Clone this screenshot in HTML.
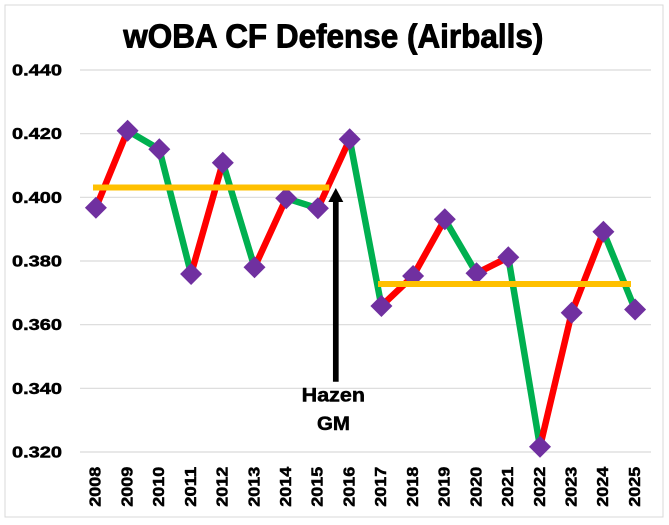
<!DOCTYPE html>
<html>
<head>
<meta charset="utf-8">
<style>
  html, body { margin: 0; padding: 0; background: #ffffff; }
  body { width: 669px; height: 525px; overflow: hidden; }
  svg { display: block; }
  text { font-family: "Liberation Sans", Arial, sans-serif; font-weight: bold; fill: #000; stroke: #000; stroke-width: 0.5px; stroke-linejoin: round; }
  .title { stroke-width: 0.9px; }
</style>
</head>
<body>
<svg width="669" height="525" viewBox="0 0 669 525" xmlns="http://www.w3.org/2000/svg">
  <rect x="0" y="0" width="669" height="525" fill="#ffffff"/>
  <rect x="5" y="5" width="658" height="512" fill="#ffffff" stroke="#D9D9D9" stroke-width="1"/>

  <!-- Title -->
  <text class="title" x="123.3" y="47.4" font-size="33" textLength="420" lengthAdjust="spacingAndGlyphs">wOBA CF Defense (Airballs)</text>

  <!-- Gridlines -->
  <g stroke="#D9D9D9" stroke-width="1.2">
    <line x1="80" y1="70" x2="651" y2="70"/>
    <line x1="80" y1="133.7" x2="651" y2="133.7"/>
    <line x1="80" y1="197.3" x2="651" y2="197.3"/>
    <line x1="80" y1="261" x2="651" y2="261"/>
    <line x1="80" y1="324.7" x2="651" y2="324.7"/>
    <line x1="80" y1="388.3" x2="651" y2="388.3"/>
    <line x1="80" y1="452" x2="651" y2="452"/>
  </g>

  <!-- Y labels -->
  <g font-size="16">
    <text x="12" y="75.5" textLength="50" lengthAdjust="spacingAndGlyphs">0.440</text>
    <text x="12" y="139.2" textLength="50" lengthAdjust="spacingAndGlyphs">0.420</text>
    <text x="12" y="202.8" textLength="50" lengthAdjust="spacingAndGlyphs">0.400</text>
    <text x="12" y="266.5" textLength="50" lengthAdjust="spacingAndGlyphs">0.380</text>
    <text x="12" y="330.2" textLength="50" lengthAdjust="spacingAndGlyphs">0.360</text>
    <text x="12" y="393.8" textLength="50" lengthAdjust="spacingAndGlyphs">0.340</text>
    <text x="12" y="457.5" textLength="50" lengthAdjust="spacingAndGlyphs">0.320</text>
  </g>

  <!-- X labels -->
  <g font-size="16">
    <text transform="translate(100.7,506.7) rotate(-90)" textLength="40" lengthAdjust="spacingAndGlyphs">2008</text>
    <text transform="translate(132.4,506.7) rotate(-90)" textLength="40" lengthAdjust="spacingAndGlyphs">2009</text>
    <text transform="translate(164.1,506.7) rotate(-90)" textLength="40" lengthAdjust="spacingAndGlyphs">2010</text>
    <text transform="translate(195.9,506.7) rotate(-90)" textLength="40" lengthAdjust="spacingAndGlyphs">2011</text>
    <text transform="translate(227.6,506.7) rotate(-90)" textLength="40" lengthAdjust="spacingAndGlyphs">2012</text>
    <text transform="translate(259.3,506.7) rotate(-90)" textLength="40" lengthAdjust="spacingAndGlyphs">2013</text>
    <text transform="translate(291.0,506.7) rotate(-90)" textLength="40" lengthAdjust="spacingAndGlyphs">2014</text>
    <text transform="translate(322.7,506.7) rotate(-90)" textLength="40" lengthAdjust="spacingAndGlyphs">2015</text>
    <text transform="translate(354.5,506.7) rotate(-90)" textLength="40" lengthAdjust="spacingAndGlyphs">2016</text>
    <text transform="translate(386.2,506.7) rotate(-90)" textLength="40" lengthAdjust="spacingAndGlyphs">2017</text>
    <text transform="translate(417.9,506.7) rotate(-90)" textLength="40" lengthAdjust="spacingAndGlyphs">2018</text>
    <text transform="translate(449.6,506.7) rotate(-90)" textLength="40" lengthAdjust="spacingAndGlyphs">2019</text>
    <text transform="translate(481.3,506.7) rotate(-90)" textLength="40" lengthAdjust="spacingAndGlyphs">2020</text>
    <text transform="translate(513.1,506.7) rotate(-90)" textLength="40" lengthAdjust="spacingAndGlyphs">2021</text>
    <text transform="translate(544.8,506.7) rotate(-90)" textLength="40" lengthAdjust="spacingAndGlyphs">2022</text>
    <text transform="translate(576.5,506.7) rotate(-90)" textLength="40" lengthAdjust="spacingAndGlyphs">2023</text>
    <text transform="translate(608.2,506.7) rotate(-90)" textLength="40" lengthAdjust="spacingAndGlyphs">2024</text>
    <text transform="translate(639.9,506.7) rotate(-90)" textLength="40" lengthAdjust="spacingAndGlyphs">2025</text>
  </g>

  <!-- Series segments -->
  <g stroke-width="6.5" stroke-linecap="round" fill="none">
    <line x1="95.9" y1="207.7" x2="127.6" y2="130.7" stroke="#FF0000"/>
    <line x1="127.6" y1="130.7" x2="159.3" y2="149.3" stroke="#00B050"/>
    <line x1="159.3" y1="149.3" x2="191.1" y2="274" stroke="#00B050"/>
    <line x1="191.1" y1="274" x2="222.8" y2="162.7" stroke="#FF0000"/>
    <line x1="222.8" y1="162.7" x2="254.5" y2="267.3" stroke="#00B050"/>
    <line x1="254.5" y1="267.3" x2="286.2" y2="198.3" stroke="#FF0000"/>
    <line x1="286.2" y1="198.3" x2="317.9" y2="208.3" stroke="#00B050"/>
    <line x1="317.9" y1="208.3" x2="349.7" y2="139.3" stroke="#FF0000"/>
    <line x1="349.7" y1="139.3" x2="381.4" y2="306" stroke="#00B050"/>
    <line x1="381.4" y1="306" x2="413.1" y2="276" stroke="#FF0000"/>
    <line x1="413.1" y1="276" x2="444.8" y2="219.3" stroke="#FF0000"/>
    <line x1="444.8" y1="219.3" x2="476.5" y2="273.3" stroke="#00B050"/>
    <line x1="476.5" y1="273.3" x2="508.3" y2="257.3" stroke="#FF0000"/>
    <line x1="508.3" y1="257.3" x2="540.0" y2="446.7" stroke="#00B050"/>
    <line x1="540.0" y1="446.7" x2="571.7" y2="312.7" stroke="#FF0000"/>
    <line x1="571.7" y1="312.7" x2="603.4" y2="231.7" stroke="#FF0000"/>
    <line x1="603.4" y1="231.7" x2="635.1" y2="309.5" stroke="#00B050"/>
  </g>

  <!-- Markers -->
  <g fill="#7030A0">
    <path d="M95.9 196.7 L106.9 207.7 L95.9 218.7 L84.9 207.7 Z"/>
    <path d="M127.6 119.7 L138.6 130.7 L127.6 141.7 L116.6 130.7 Z"/>
    <path d="M159.3 138.3 L170.3 149.3 L159.3 160.3 L148.3 149.3 Z"/>
    <path d="M191.1 263 L202.1 274 L191.1 285 L180.1 274 Z"/>
    <path d="M222.8 151.7 L233.8 162.7 L222.8 173.7 L211.8 162.7 Z"/>
    <path d="M254.5 256.3 L265.5 267.3 L254.5 278.3 L243.5 267.3 Z"/>
    <path d="M286.2 187.3 L297.2 198.3 L286.2 209.3 L275.2 198.3 Z"/>
    <path d="M317.9 197.3 L328.9 208.3 L317.9 219.3 L306.9 208.3 Z"/>
    <path d="M349.7 128.3 L360.7 139.3 L349.7 150.3 L338.7 139.3 Z"/>
    <path d="M381.4 295 L392.4 306 L381.4 317 L370.4 306 Z"/>
    <path d="M413.1 265 L424.1 276 L413.1 287 L402.1 276 Z"/>
    <path d="M444.8 208.3 L455.8 219.3 L444.8 230.3 L433.8 219.3 Z"/>
    <path d="M476.5 262.3 L487.5 273.3 L476.5 284.3 L465.5 273.3 Z"/>
    <path d="M508.3 246.3 L519.3 257.3 L508.3 268.3 L497.3 257.3 Z"/>
    <path d="M540.0 435.7 L551.0 446.7 L540.0 457.7 L529.0 446.7 Z"/>
    <path d="M571.7 301.7 L582.7 312.7 L571.7 323.7 L560.7 312.7 Z"/>
    <path d="M603.4 220.7 L614.4 231.7 L603.4 242.7 L592.4 231.7 Z"/>
    <path d="M635.1 298.5 L646.1 309.5 L635.1 320.5 L624.1 309.5 Z"/>
  </g>

  <!-- Average lines -->
  <g stroke="#FFC000" stroke-width="6">
    <line x1="93" y1="187.5" x2="329.3" y2="187.5"/>
    <line x1="378" y1="284" x2="631" y2="284"/>
  </g>

  <!-- Arrow -->
  <line x1="335.8" y1="200" x2="335.8" y2="381.7" stroke="#000" stroke-width="5.7"/>
  <path d="M335.8 188 L343.3 202 L328.3 202 Z" fill="#000"/>

  <!-- Annotation -->
  <text x="301.7" y="401.7" font-size="19" textLength="63.3" lengthAdjust="spacingAndGlyphs">Hazen</text>
  <text x="317" y="430" font-size="19" textLength="33" lengthAdjust="spacingAndGlyphs">GM</text>
</svg>
</body>
</html>
